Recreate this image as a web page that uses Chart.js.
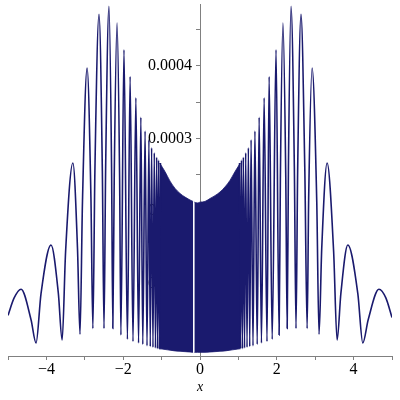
<!DOCTYPE html>
<html>
<head>
<meta charset="utf-8">
<script src="https://cdn.jsdelivr.net/npm/chart.js@4"></script>
<style>
  html, body { margin: 0; padding: 0; background: #fff; }
</style>
</head>
<body>
<canvas id="plot" width="400" height="400"></canvas>
<script>
// values, y in units of 1e-4
var leftX = [-5.00, -4.84, -4.66, -4.40, -4.27, -4.14, -3.88, -3.69, -3.59, -3.50, -3.31, -3.19, -3.125, -3.06,
    -2.94, -2.84, -2.79, -2.737, -2.63, -2.543, -2.50, -2.457, -2.37, -2.303, -2.27, -2.233, -2.16, -2.093, -2.06,
    -1.98, -1.89, -1.82, -1.745, -1.67, -1.60, -1.54, -1.49, -1.43, -1.38, -1.33, -1.295, -1.26, -1.225,
    -1.19, -1.16, -1.13, -1.105, -1.08, -1.055, -1.03];
var leftY = [0.56, 0.80, 0.92, 0.50, 0.18, 0.86, 1.53, 0.87, 0.22, 1.44, 2.66, 1.48, 0.30, 2.14,
    3.97, 2.17, 0.38, 2.55, 4.71, 2.55, 0.38, 2.60, 4.82, 2.60, 0.38, 2.49, 4.59, 2.44, 0.29,
    4.22, 0.23, 3.85, 0.20, 3.56, 0.18, 3.29, 0.16, 3.10, 0.14, 2.98, 0.13, 2.87, 0.12,
    2.80, 0.11, 2.74, 0.10, 2.70, 0.10, 2.66];

var rightX = [1.03, 1.055, 1.08, 1.105, 1.13, 1.16, 1.19, 1.225, 1.26, 1.295, 1.33, 1.38, 1.43, 1.49,
    1.54, 1.60, 1.67, 1.745, 1.80, 1.88, 1.98, 2.06, 2.093, 2.16, 2.233, 2.27, 2.303, 2.37, 2.457, 2.50,
    2.543, 2.63, 2.73, 2.79, 2.83, 2.92, 3.04, 3.10, 3.17, 3.31, 3.48, 3.57, 3.67, 3.85, 4.11, 4.24,
    4.38, 4.66, 4.84, 5.00];
var rightY = [2.66, 0.10, 2.70, 0.10, 2.74, 0.11, 2.80, 0.12, 2.87, 0.13, 2.98, 0.14, 3.10, 0.16,
    3.29, 0.18, 3.56, 0.20, 3.85, 0.23, 4.22, 0.29, 2.44, 4.59, 2.49, 0.38, 2.60, 4.82, 2.60, 0.38,
    2.55, 4.71, 2.55, 0.38, 2.17, 3.97, 2.14, 0.30, 1.48, 2.66, 1.44, 0.22, 0.87, 1.53, 0.86, 0.18,
    0.50, 0.92, 0.80, 0.53];

// dense middle part, drawn as a band between the two envelopes
// (split in two, there is a thin white gap just left of the y axis)
var bandLeftX = [-1.05, -0.91, -0.78, -0.65, -0.52, -0.39, -0.26, -0.18];
var bandLeftTop = [2.66, 2.54, 2.41, 2.31, 2.24, 2.19, 2.15, 2.13];
var bandLeftLow = [0.10, 0.09, 0.08, 0.07, 0.065, 0.06, 0.055, 0.05];

var bandRightX = [-0.147, -0.07, 0, 0.13, 0.26, 0.39, 0.52, 0.65, 0.78, 0.91, 1.05];
var bandRightTop = [2.12, 2.11, 2.12, 2.13, 2.17, 2.21, 2.26, 2.33, 2.42, 2.54, 2.66];
var bandRightLow = [0.05, 0.05, 0.05, 0.05, 0.055, 0.06, 0.065, 0.07, 0.08, 0.09, 0.10];

var xTicks = [-4, -2, 0, 2, 4];
var yTicks = [0.0001, 0.0002, 0.0003, 0.0004];

var lineColor = '#1a1a6e';
var axisColor = '#808080';
var serif = 'Liberation Serif';

function pts(xs, ys) {
    return xs.map(function (x, i) { return {x: x, y: ys[i] * 1e-4}; });
}

function curve(data, extra) {
    var ds = {
        data: data,
        borderColor: lineColor,
        backgroundColor: lineColor,
        borderWidth: 1.6,
        pointRadius: 0,
        cubicInterpolationMode: 'monotone',
        fill: false
    };
    return Object.assign(ds, extra || {});
}

new Chart(document.getElementById('plot'), {
    type: 'line',
    data: {
        datasets: [
            curve(pts(leftX, leftY)),
            curve(pts(rightX, rightY)),
            curve(pts(bandLeftX, bandLeftTop), {borderWidth: 0.8}),
            curve(pts(bandLeftX, bandLeftLow), {borderWidth: 0.8, fill: '-1'}),
            curve(pts(bandRightX, bandRightTop), {borderWidth: 0.8}),
            curve(pts(bandRightX, bandRightLow), {borderWidth: 0.8, fill: '-1'})
        ]
    },
    options: {
        responsive: false,
        animation: false,
        layout: {padding: {left: 8, right: 8, top: 0, bottom: 0}},
        plugins: {legend: {display: false}, tooltip: {enabled: false}},
        scales: {
            x: {
                type: 'linear',
                min: -5,
                max: 5,
                border: {color: axisColor, width: 1},
                grid: {drawOnChartArea: false, tickLength: 4, color: axisColor},
                ticks: {
                    stepSize: 1,
                    autoSkip: false,
                    maxRotation: 0,
                    padding: 0,
                    color: '#000',
                    font: {family: serif, size: 16},
                    callback: function (v) {
                        if (xTicks.indexOf(v) < 0) return '';
                        return v < 0 ? '\u2212' + (-v) : String(v);
                    }
                },
                title: {
                    display: true,
                    text: 'x',
                    color: '#000',
                    font: {family: serif, size: 14, style: 'italic'},
                    padding: {top: 0, bottom: 4}
                }
            },
            y: {
                type: 'linear',
                min: 0,
                max: 0.000484,
                position: {x: 0},
                z: 1,
                border: {color: axisColor, width: 1},
                grid: {drawOnChartArea: false, tickLength: 4, color: axisColor},
                ticks: {
                    stepSize: 0.00005,
                    includeBounds: false,
                    autoSkip: false,
                    padding: 0,
                    color: '#000',
                    // small lineHeight so the labels do not push the plot top down
                    font: {family: serif, size: 16, lineHeight: 0.6},
                    callback: function (v) {
                        var hit = yTicks.some(function (t) { return Math.abs(t - v) < 1e-9; });
                        // trailing spaces keep the text clear of the axis line
                        return hit ? v.toFixed(4) + '  ' : '';
                    }
                }
            }
        }
    }
});
</script>
</body>
</html>
